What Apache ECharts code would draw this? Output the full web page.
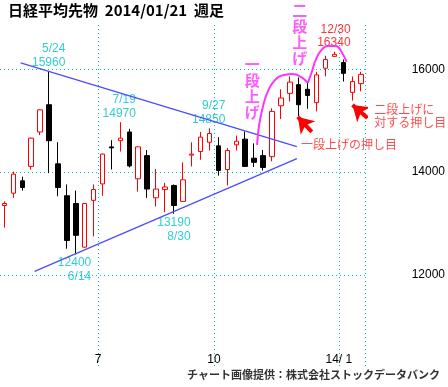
<!DOCTYPE html>
<html><head><meta charset="utf-8">
<script src="https://cdn.jsdelivr.net/npm/echarts@6/dist/echarts.min.js"></script>
<style>html,body{margin:0;padding:0;background:#fff}#c{width:448px;height:387px}</style>
</head><body><div id="c"></div>
<script>
// Weekly candles (week start dates)
const categories = ['4/15','4/22','4/29','5/6','5/13','5/20','5/27','6/3','6/10','6/17','6/24',
  '7/1','7/8','7/15','7/22','7/29','8/5','8/12','8/19','8/26','9/2','9/9','9/16','9/23',
  '9/30','10/7','10/14','10/21','10/28','11/4','11/11','11/18','11/25','12/2','12/9','12/16','12/23','12/30',
  '1/6','1/13','1/20'];
const opens  = [13350,13590,13830,14110,14780,15310,14160,13540,13390,12540,13450,13770,14490,14610,14780,13870,14320,13500,13660,13740,13430,14330,14400,14580,14510,14050,14530,14640,14270,14320,14300,15290,15530,15700,15610,15350,16020,16250,16130,15550,15720];
const closes = [13390,13960,13700,14660,15210,14610,13700,12670,12770,13390,13660,14350,14470,14660,14120,14490,13670,13670,13710,13350,13850,14350,14680,14750,14030,14420,14600,14110,14190,14090,15180,15440,15750,15310,15490,15890,16190,16290,15920,15760,15900];
const lows   = [12920,13500,13640,14050,14720,13980,13530,12510,12400,12530,12750,13540,14050,14400,14090,13620,13500,13330,13220,13190,13420,14110,14240,14420,13930,13740,14420,14100,14100,14030,14210,15030,15370,15090,15230,15180,15860,16240,15760,15390,15570];
const highs  = [13430,14010,13910,14670,15220,15960,14580,13760,13640,13400,13760,14360,14620,14970,14840,14500,14430,14060,13790,13760,14190,14580,14780,14850,14680,14470,14710,14790,14560,14430,15240,15610,15860,15840,15730,15950,16260,16340,16190,15860,15950];

const yTickValues = [12000, 14000, 16000];
const monthTickIndex = [11, 24, 38];
const monthTickLabels = ['7', '10', '14/ 1'];

// Trend lines [weekIndex, price]
const upperTrend = [[1.82, 16122], [32.79, 14493]];
const lowerTrend = [[3.38, 12068], [32.79, 14260]];
// Magenta "step-up" arcs
const arc1 = [[28.33,14528],[28.56,14917],[29.00,15286],[29.56,15578],[30.34,15792],[31.34,15889],[32.35,15909],[33.24,15850],[34.02,15734]];
const arc2 = [[34.02,15734],[34.46,15947],[34.91,16181],[35.47,16356],[36.25,16453],[37.14,16453],[37.80,16336],[38.36,16142]];
// Red arrows [tail, tip]
const arrows = [[[34.46,14781],[32.90,15072]], [[40.70,15053],[39.03,15306]]];

// Text annotations
const peakTexts = ['5/24\n15960','7/19\n14970','9/27\n14850','12400\n6/14','13190\n8/30'];
const peakPos   = [[6.83,16268],[14.74,15267],[24.77,15150],[9.73,12107],[20.87,12885]];
const topText = '12/30\n16340';
const topPos = [38.81, 16638];
const noteTexts = ['一段上げの押し目', '二段上げに\n対する押し目'];
const notePos = [[33.24, 14547], [41.48, 15092]];
const stepTexts = ['一\n段\n上\nげ', '二\n段\n上\nげ'];
const stepPos = [[27.78, 15636], [33.12, 16686]];

const TEAL = '#00c0c0';
const NUMFONT = '"Liberation Sans", Arial, sans-serif';
const JPFONT = '"Noto Sans CJK JP", sans-serif';

const candleData = categories.map((c, i) => [opens[i], closes[i], lows[i], highs[i]]);

const annData = [];
peakTexts.forEach((t, i) => annData.push({value: peakPos[i], label: {formatter: t, align: 'right', color: TEAL, fontFamily: NUMFONT, fontSize: 12, lineHeight: 14}}));
annData.push({value: topPos, label: {formatter: topText, align: 'right', color: '#ff0000', fontFamily: NUMFONT, fontSize: 12, lineHeight: 13}});
noteTexts.forEach((t, i) => annData.push({value: notePos[i], label: {formatter: t, align: 'left', color: '#ff2020', fontFamily: JPFONT, fontSize: 12, lineHeight: 13}}));
stepTexts.forEach((t, i) => annData.push({value: stepPos[i], label: {formatter: t, align: 'center', color: '#ff33ff', fontFamily: JPFONT, fontSize: 15, fontWeight: 'bold', lineHeight: 16}}));

const dotted = {color: TEAL, type: [1, 3], width: 1};

const chart = echarts.init(document.getElementById('c'), null, {renderer: 'canvas'});
chart.setOption({
  animation: false,
  backgroundColor: '#fff',
  title: [
    {text: '日経平均先物  2014/01/21  週足', left: 8, top: 3, padding: 0,
     textStyle: {fontFamily: JPFONT, fontSize: 15, fontWeight: 'bold', color: '#000'}},
    {text: 'チャート画像提供：株式会社ストックデータバンク', right: 8, top: 369, padding: 0,
     textStyle: {fontFamily: JPFONT, fontSize: 11, fontWeight: 'bold', color: '#333'}}
  ],
  grid: {left: -2, right: 81, top: 25, bottom: 20},
  xAxis: [
    {type: 'category', data: categories, boundaryGap: true,
     axisLine: {show: false}, axisTick: {show: false},
     axisLabel: {inside: true, margin: 1,
       interval: (i) => monthTickIndex.indexOf(i) >= 0,
       formatter: (v, i) => '{a|' + monthTickLabels[monthTickIndex.indexOf(i)] + '}',
       rich: {a: {padding: [0, 9, 0, 0], fontFamily: NUMFONT, fontSize: 12, color: '#000'}}},
     splitLine: {show: true, interval: (i) => monthTickIndex.indexOf(i) >= 0, lineStyle: dotted}},
    {type: 'value', min: -0.5, max: 40.5, show: false}
  ],
  yAxis: {type: 'value', position: 'right', min: 10210, max: 16860,
    axisLine: {show: false}, axisTick: {show: false, customValues: yTickValues},
    axisLabel: {customValues: yTickValues, margin: 46, fontFamily: NUMFONT, fontSize: 12, color: '#000',
      formatter: (v) => String(v)},
    splitLine: {show: true, lineStyle: dotted}},
  series: [
    {type: 'candlestick', data: candleData, barWidth: 5,
     itemStyle: {color: '#fff', color0: '#000', borderColor: '#ff0000', borderColor0: '#000', borderWidth: 1}},
    {type: 'line', xAxisIndex: 1, data: upperTrend, symbol: 'none', lineStyle: {color: '#4c4cff', width: 1.3}},
    {type: 'line', xAxisIndex: 1, data: lowerTrend, symbol: 'none', lineStyle: {color: '#4c4cff', width: 1.3}},
    {type: 'line', xAxisIndex: 1, data: arc1, symbol: 'none', smooth: 0.5, lineStyle: {color: '#ff33ff', width: 2}},
    {type: 'line', xAxisIndex: 1, data: arc2, symbol: 'none', smooth: 0.5, lineStyle: {color: '#ff33ff', width: 2}},
    {type: 'lines', coordinateSystem: 'cartesian2d', xAxisIndex: 1, yAxisIndex: 0, silent: true,
     symbol: ['none', 'arrow'], symbolSize: 15,
     lineStyle: {color: '#ff0000', width: 4, opacity: 1, curveness: 0},
     data: arrows.map(a => ({coords: [a[0], a[1]]}))},
    {type: 'scatter', xAxisIndex: 1, data: annData, symbolSize: 1, clip: false, silent: true,
     itemStyle: {color: 'rgba(0,0,0,0)'},
     label: {show: true, position: 'inside', verticalAlign: 'middle'}}
  ]
});
</script></body></html>
